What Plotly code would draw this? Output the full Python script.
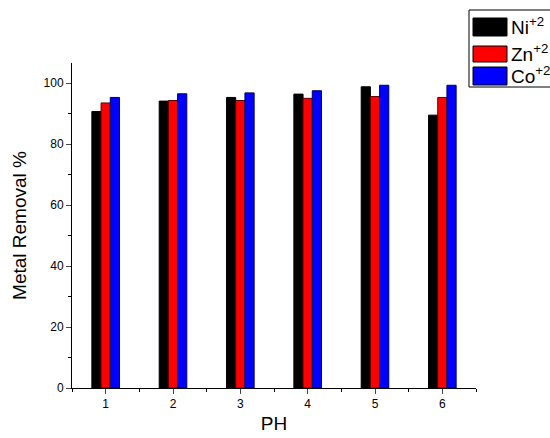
import plotly.graph_objects as go

ph = [1, 2, 3, 4, 5, 6]
ni = [90.7, 94.1, 95.3, 96.4, 98.8, 89.5]
zn = [93.5, 94.3, 94.3, 95.0, 95.6, 95.3]
co = [95.3, 96.5, 96.8, 97.5, 99.3, 99.3]
names = ["Ni<sup>+2</sup>", "Zn<sup>+2</sup>", "Co<sup>+2</sup>"]
colors = ["#000000", "#ff0000", "#0000ff"]
edges = ["#000000", "#600000", "#000060"]

fig = go.Figure()
for vals, nm, c, e in zip([ni, zn, co], names, colors, edges):
    fig.add_trace(go.Bar(x=ph, y=vals, name=nm, marker=dict(color=c, line=dict(color=e, width=1)),
                         showlegend=False))

FONT = "Arial, Liberation Sans, sans-serif"
L, R, T, B = 72, 476, 63, 388

def px(X):
    return (X - L) / (R - L)

def py(Y):
    return (B - Y) / (B - T)

shapes = [dict(type="rect", xref="paper", yref="paper", x0=px(469), x1=px(560), y0=py(87), y1=py(10),
               line=dict(color="#000000", width=1), fillcolor="white", layer="above")]
annotations = []
sw_y = [(18, 36), (46, 62), (67, 85)]
for (y0, y1), nm, c in zip(sw_y, names, colors):
    shapes.append(dict(type="rect", xref="paper", yref="paper", x0=px(473), x1=px(507), y0=py(y1), y1=py(y0),
                       line=dict(color="#000000", width=1), fillcolor=c, layer="above"))
    annotations.append(dict(xref="paper", yref="paper", x=px(509), y=py((y0 + y1) / 2 - 1), text=nm,
                            showarrow=False, xanchor="left", yanchor="middle",
                            font=dict(family=FONT, size=19, color="#000000")))

fig.update_layout(
    width=550, height=438,
    margin=dict(l=L, r=550 - R, t=T, b=438 - B),
    paper_bgcolor="white", plot_bgcolor="white",
    barmode="group", bargap=0.59, bargroupgap=0,
    font=dict(family=FONT, color="#000000"),
    shapes=shapes, annotations=annotations,
    xaxis=dict(range=[0.5, 6.5], tickvals=ph, ticks="outside", ticklen=5, tickwidth=1, automargin=False,
               showline=True, linecolor="#000000", linewidth=1, showgrid=False, zeroline=False,
               tickfont=dict(size=12), title=dict(text="PH", font=dict(size=19), standoff=6),
               minor=dict(ticks="outside", ticklen=3, tick0=0.5, dtick=1, tickcolor="#000000")),
    yaxis=dict(range=[0, 106.6], tickvals=[0, 20, 40, 60, 80, 100], ticks="outside", ticklen=5, tickwidth=1,
               automargin=False,
               showline=True, linecolor="#000000", linewidth=1, showgrid=False, zeroline=False,
               tickfont=dict(size=12), title=dict(text="Metal Removal %", font=dict(size=19), standoff=11),
               minor=dict(ticks="outside", ticklen=3, tick0=10, dtick=20, tickcolor="#000000")),
)

fig.write_html("out.html", config={"displayModeBar": False},
               post_script="document.body.style.margin='0';document.body.style.overflow='hidden';")
